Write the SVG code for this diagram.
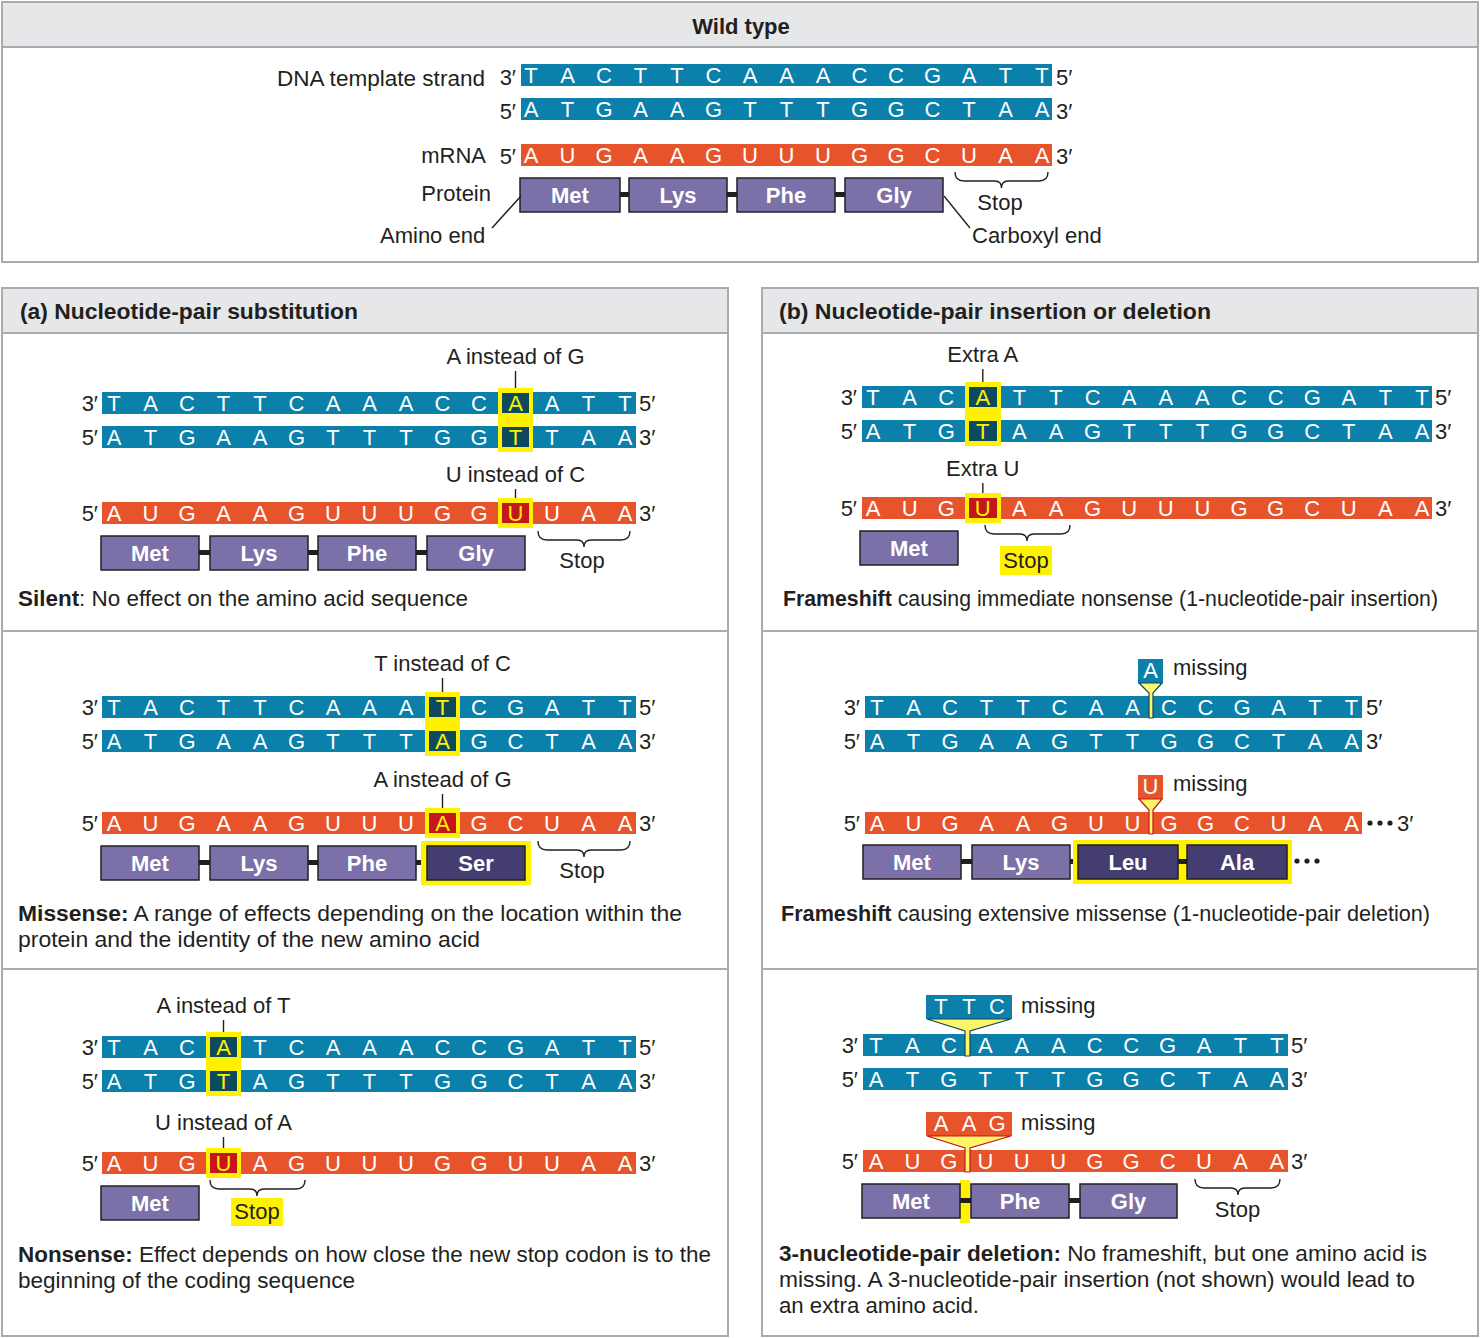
<svg xmlns="http://www.w3.org/2000/svg" width="1480" height="1338" viewBox="0 0 1480 1338">
<style>
text{font-family:"Liberation Sans",Arial,sans-serif;font-size:22px;fill:#231f20}
.nt{fill:#fff;text-anchor:middle}
.y{fill:#fff200}
.mid{text-anchor:middle}
.end{text-anchor:end}
.b{font-weight:bold}
.dna{fill:#0a80aa}
.rna{fill:#e7532b}
.prot{fill:#7b70a8;stroke:#231f20;stroke-width:1.5}
.protd{fill:#433e6f;stroke:#231f20;stroke-width:1.5}
.pt{fill:#fff;font-weight:bold;text-anchor:middle}
.hl{fill:#fff200}
.dk{fill:#0e4a5e}
.rd{fill:#c4161c}
.ln{stroke:#231f20;stroke-width:1.4;fill:none}
.cn{fill:#231f20}
.frame{fill:#fff;stroke:#a9abae;stroke-width:2}
.head{fill:#e6e7e8;stroke:#a9abae;stroke-width:2}
.div{stroke:#a9abae;stroke-width:2}
.fd{fill:#fff56a;stroke:#0e4a5e;stroke-width:1.2}
.fr{fill:#fff56a;stroke:#c4161c;stroke-width:1.2}
</style>

<!-- Frames -->
<g id="frames">
<rect class="frame" x="2" y="2" width="1476" height="260"/>
<rect class="head" x="2" y="2" width="1476" height="45"/>
<rect class="frame" x="2" y="288" width="726" height="1048"/>
<rect class="head" x="2" y="288" width="726" height="45"/>
<line class="div" x1="2" y1="631" x2="728" y2="631"/>
<line class="div" x1="2" y1="969" x2="728" y2="969"/>
<rect class="frame" x="762" y="288" width="716" height="1048"/>
<rect class="head" x="762" y="288" width="716" height="45"/>
<line class="div" x1="762" y1="631" x2="1478" y2="631"/>
<line class="div" x1="762" y1="969" x2="1478" y2="969"/>
<text class="b mid" x="741" y="34">Wild type</text>
<text class="b" x="20" y="319" textLength="338" lengthAdjust="spacingAndGlyphs">(a) Nucleotide-pair substitution</text>
<text class="b" x="779" y="319" textLength="432" lengthAdjust="spacingAndGlyphs">(b) Nucleotide-pair insertion or deletion</text>
</g>

<!-- Wild type -->
<g id="wildtype">
<text x="277" y="86" textLength="208" lengthAdjust="spacingAndGlyphs">DNA template strand</text>
<text class="end" x="516" y="85">3′</text>
<rect class="dna" x="521" y="64" width="531" height="22"/>
<text class="nt" y="83" x="531 567.5 604 640.5 677 713.5 750 786.5 823 859.5 896 932.5 969 1005.5 1042">TACTTCAAACCGATT</text>
<text x="1056" y="85">5′</text>
<text class="end" x="516" y="119">5′</text>
<rect class="dna" x="521" y="98" width="531" height="22"/>
<text class="nt" y="117" x="531 567.5 604 640.5 677 713.5 750 786.5 823 859.5 896 932.5 969 1005.5 1042">ATGAAGTTTGGCTAA</text>
<text x="1056" y="119">3′</text>
<text class="end" x="486" y="163">mRNA</text>
<text class="end" x="516" y="164">5′</text>
<rect class="rna" x="521" y="144" width="531" height="22"/>
<text class="nt" y="163" x="531 567.5 604 640.5 677 713.5 750 786.5 823 859.5 896 932.5 969 1005.5 1042">AUGAAGUUUGGCUAA</text>
<text x="1056" y="164">3′</text>
<text class="end" x="491" y="201">Protein</text>
<rect class="cn" x="619" y="192" width="11" height="5"/>
<rect class="cn" x="726" y="192" width="12" height="5"/>
<rect class="cn" x="834" y="192" width="12" height="5"/>
<rect class="prot" x="520" y="178" width="100" height="34"/>
<text class="pt" x="570" y="203">Met</text>
<rect class="prot" x="629" y="178" width="98" height="34"/>
<text class="pt" x="678" y="203">Lys</text>
<rect class="prot" x="737" y="178" width="98" height="34"/>
<text class="pt" x="786" y="203">Phe</text>
<rect class="prot" x="845" y="178" width="98" height="34"/>
<text class="pt" x="894" y="203">Gly</text>
<text class="mid" x="1000" y="210">Stop</text>
<text x="380" y="243">Amino end</text>
<text x="972" y="243">Carboxyl end</text>
</g>

<!-- (a) Silent -->
<g id="silent">
<text class="mid" x="515.5" y="364">A instead of G</text>
<text class="end" x="98" y="411">3′</text>
<rect class="dna" x="102" y="392" width="534" height="22"/>
<text class="end" x="98" y="445">5′</text>
<rect class="dna" x="102" y="426" width="534" height="22"/>
<rect class="hl" x="498" y="388" width="35" height="64"/>
<rect class="dk" x="502" y="393" width="27" height="20"/>
<rect class="dk" x="502" y="427" width="27" height="20"/>
<text class="nt" y="411"><tspan x="114 150.5 187 223.5 260 296.5 333 369.5 406 442.5 479">TACTTCAAACC</tspan><tspan class="y" x="515.5">A</tspan><tspan x="552 588.5 625">ATT</tspan></text>
<text class="nt" y="445"><tspan x="114 150.5 187 223.5 260 296.5 333 369.5 406 442.5 479">ATGAAGTTTGG</tspan><tspan class="y" x="515.5">T</tspan><tspan x="552 588.5 625">TAA</tspan></text>
<text x="639" y="411">5′</text>
<text x="639" y="445">3′</text>
<text class="mid" x="515.5" y="482">U instead of C</text>
<text class="end" x="98" y="521">5′</text>
<rect class="rna" x="102" y="502" width="534" height="22"/>
<rect class="hl" x="498" y="498" width="35" height="30"/>
<rect class="rd" x="502" y="503" width="27" height="20"/>
<text class="nt" y="521"><tspan x="114 150.5 187 223.5 260 296.5 333 369.5 406 442.5 479">AUGAAGUUUGG</tspan><tspan class="y" x="515.5">U</tspan><tspan x="552 588.5 625">UAA</tspan></text>
<text x="639" y="521">3′</text>
<rect class="cn" x="198" y="550" width="13" height="5"/>
<rect class="cn" x="307" y="550" width="12" height="5"/>
<rect class="cn" x="415" y="550" width="13" height="5"/>
<rect class="prot" x="101" y="536" width="98" height="34"/>
<text class="pt" x="150" y="561">Met</text>
<rect class="prot" x="210" y="536" width="98" height="34"/>
<text class="pt" x="259" y="561">Lys</text>
<rect class="prot" x="318" y="536" width="98" height="34"/>
<text class="pt" x="367" y="561">Phe</text>
<rect class="prot" x="427" y="536" width="98" height="34"/>
<text class="pt" x="476" y="561">Gly</text>
<text class="mid" x="582" y="568">Stop</text>
<text x="18" y="606" textLength="450" lengthAdjust="spacingAndGlyphs"><tspan class="b">Silent</tspan>: No effect on the amino acid sequence</text>
</g>

<!-- (a) Missense -->
<g id="missense">
<text class="mid" x="442.5" y="671">T instead of C</text>
<text class="end" x="98" y="715">3′</text>
<rect class="dna" x="102" y="696" width="534" height="22"/>
<text class="end" x="98" y="749">5′</text>
<rect class="dna" x="102" y="730" width="534" height="22"/>
<rect class="hl" x="425" y="692" width="35" height="64"/>
<rect class="dk" x="429" y="697" width="27" height="20"/>
<rect class="dk" x="429" y="731" width="27" height="20"/>
<text class="nt" y="715"><tspan x="114 150.5 187 223.5 260 296.5 333 369.5 406">TACTTCAAA</tspan><tspan class="y" x="442.5">T</tspan><tspan x="479 515.5 552 588.5 625">CGATT</tspan></text>
<text class="nt" y="749"><tspan x="114 150.5 187 223.5 260 296.5 333 369.5 406">ATGAAGTTT</tspan><tspan class="y" x="442.5">A</tspan><tspan x="479 515.5 552 588.5 625">GCTAA</tspan></text>
<text x="639" y="715">5′</text>
<text x="639" y="749">3′</text>
<text class="mid" x="442.5" y="787">A instead of G</text>
<text class="end" x="98" y="831">5′</text>
<rect class="rna" x="102" y="812" width="534" height="22"/>
<rect class="hl" x="425" y="808" width="35" height="30"/>
<rect class="rd" x="429" y="813" width="27" height="20"/>
<text class="nt" y="831"><tspan x="114 150.5 187 223.5 260 296.5 333 369.5 406">AUGAAGUUU</tspan><tspan class="y" x="442.5">A</tspan><tspan x="479 515.5 552 588.5 625">GCUAA</tspan></text>
<text x="639" y="831">3′</text>
<rect class="cn" x="198" y="860" width="13" height="5"/>
<rect class="cn" x="307" y="860" width="12" height="5"/>
<rect class="cn" x="415" y="860" width="13" height="5"/>
<rect class="hl" x="421" y="841" width="110" height="44"/>
<rect class="prot" x="101" y="846" width="98" height="34"/>
<text class="pt" x="150" y="871">Met</text>
<rect class="prot" x="210" y="846" width="98" height="34"/>
<text class="pt" x="259" y="871">Lys</text>
<rect class="prot" x="318" y="846" width="98" height="34"/>
<text class="pt" x="367" y="871">Phe</text>
<rect class="protd" x="427" y="846" width="98" height="34"/>
<text class="pt y" x="476" y="871">Ser</text>
<text class="mid" x="582" y="878">Stop</text>
<text x="18" y="921" textLength="664" lengthAdjust="spacingAndGlyphs"><tspan class="b">Missense:</tspan> A range of effects depending on the location within the</text>
<text x="18" y="947" textLength="462" lengthAdjust="spacingAndGlyphs">protein and the identity of the new amino acid</text>
</g>

<!-- (a) Nonsense -->
<g id="nonsense">
<text class="mid" x="223.5" y="1013">A instead of T</text>
<text class="end" x="98" y="1055">3′</text>
<rect class="dna" x="102" y="1036" width="534" height="22"/>
<text class="end" x="98" y="1089">5′</text>
<rect class="dna" x="102" y="1070" width="534" height="22"/>
<rect class="hl" x="206" y="1032" width="35" height="64"/>
<rect class="dk" x="210" y="1037" width="27" height="20"/>
<rect class="dk" x="210" y="1071" width="27" height="20"/>
<text class="nt" y="1055"><tspan x="114 150.5 187">TAC</tspan><tspan class="y" x="223.5">A</tspan><tspan x="260 296.5 333 369.5 406 442.5 479 515.5 552 588.5 625">TCAAACCGATT</tspan></text>
<text class="nt" y="1089"><tspan x="114 150.5 187">ATG</tspan><tspan class="y" x="223.5">T</tspan><tspan x="260 296.5 333 369.5 406 442.5 479 515.5 552 588.5 625">AGTTTGGCTAA</tspan></text>
<text x="639" y="1055">5′</text>
<text x="639" y="1089">3′</text>
<text class="mid" x="223.5" y="1130">U instead of A</text>
<text class="end" x="98" y="1171">5′</text>
<rect class="rna" x="102" y="1152" width="534" height="22"/>
<rect class="hl" x="206" y="1148" width="35" height="30"/>
<rect class="rd" x="210" y="1153" width="27" height="20"/>
<text class="nt" y="1171"><tspan x="114 150.5 187">AUG</tspan><tspan class="y" x="223.5">U</tspan><tspan x="260 296.5 333 369.5 406 442.5 479 515.5 552 588.5 625">AGUUUGGUUAA</tspan></text>
<text x="639" y="1171">3′</text>
<rect class="prot" x="101" y="1186" width="98" height="34"/>
<text class="pt" x="150" y="1211">Met</text>
<rect class="hl" x="231" y="1198" width="52" height="28"/>
<text class="mid" x="257" y="1219">Stop</text>
<text x="18" y="1262" textLength="693" lengthAdjust="spacingAndGlyphs"><tspan class="b">Nonsense:</tspan> Effect depends on how close the new stop codon is to the</text>
<text x="18" y="1288" textLength="337" lengthAdjust="spacingAndGlyphs">beginning of the coding sequence</text>
</g>

<!-- (b) Insertion -->
<g id="insertion">
<text class="mid" x="982.8" y="362">Extra A</text>
<text class="end" x="857" y="405">3′</text>
<rect class="dna" x="862" y="386" width="570" height="22"/>
<text class="end" x="857" y="439">5′</text>
<rect class="dna" x="862" y="420" width="570" height="22"/>
<rect class="hl" x="965" y="382" width="36" height="64"/>
<rect class="dk" x="969" y="387" width="28" height="20"/>
<rect class="dk" x="969" y="421" width="28" height="20"/>
<text class="nt" y="405"><tspan x="873 909.6 946.2">TAC</tspan><tspan class="y" x="982.8">A</tspan><tspan x="1019.4 1056 1092.6 1129.2 1165.8 1202.4 1239 1275.6 1312.2 1348.8 1385.4 1422">TTCAAACCGATT</tspan></text>
<text class="nt" y="439"><tspan x="873 909.6 946.2">ATG</tspan><tspan class="y" x="982.8">T</tspan><tspan x="1019.4 1056 1092.6 1129.2 1165.8 1202.4 1239 1275.6 1312.2 1348.8 1385.4 1422">AAGTTTGGCTAA</tspan></text>
<text x="1435" y="405">5′</text>
<text x="1435" y="439">3′</text>
<text class="mid" x="982.8" y="476">Extra U</text>
<text class="end" x="857" y="516">5′</text>
<rect class="rna" x="862" y="497" width="570" height="22"/>
<rect class="hl" x="965" y="493" width="36" height="30"/>
<rect class="rd" x="969" y="498" width="28" height="20"/>
<text class="nt" y="516"><tspan x="873 909.6 946.2">AUG</tspan><tspan class="y" x="982.8">U</tspan><tspan x="1019.4 1056 1092.6 1129.2 1165.8 1202.4 1239 1275.6 1312.2 1348.8 1385.4 1422">AAGUUUGGCUAA</tspan></text>
<text x="1435" y="516">3′</text>
<rect class="prot" x="860" y="531" width="98" height="34"/>
<text class="pt" x="909" y="556">Met</text>
<rect class="hl" x="1000" y="546" width="52" height="29"/>
<text class="mid" x="1026" y="568">Stop</text>
<text x="783" y="606" textLength="655" lengthAdjust="spacingAndGlyphs"><tspan class="b">Frameshift</tspan> causing immediate nonsense (1-nucleotide-pair insertion)</text>
</g>

<!-- (b) Deletion of one pair -->
<g id="deletion1">
<rect class="dna" x="1138" y="659" width="25" height="24"/>
<text class="nt" x="1150.5" y="678">A</text>
<text x="1173" y="675">missing</text>
<text class="end" x="860" y="715">3′</text>
<rect class="dna" x="865" y="696" width="497" height="22"/>
<text class="end" x="860" y="749">5′</text>
<rect class="dna" x="865" y="730" width="497" height="22"/>
<polygon class="fd" points="1139,683 1162,683 1153,693 1153,718 1149,718 1149,693"/>
<text class="nt" y="715" x="877 913.5 950 986.5 1023 1059.5 1096 1132.5 1169 1205.5 1242 1278.5 1315 1351.5">TACTTCAACCGATT</text>
<text class="nt" y="749" x="877 913.5 950 986.5 1023 1059.5 1096 1132.5 1169 1205.5 1242 1278.5 1315 1351.5">ATGAAGTTGGCTAA</text>
<text x="1366" y="715">5′</text>
<text x="1366" y="749">3′</text>
<rect class="rna" x="1138" y="775" width="25" height="24"/>
<text class="nt" x="1150.5" y="794">U</text>
<text x="1173" y="791">missing</text>
<text class="end" x="860" y="831">5′</text>
<rect class="rna" x="865" y="812" width="497" height="22"/>
<polygon class="fr" points="1139,799 1162,799 1153,810 1153,834 1149,834 1149,810"/>
<text class="nt" y="831" x="877 913.5 950 986.5 1023 1059.5 1096 1132.5 1169 1205.5 1242 1278.5 1315 1351.5">AUGAAGUUGGCUAA</text>
<circle class="cn" cx="1370" cy="823" r="2.6"/>
<circle class="cn" cx="1380" cy="823" r="2.6"/>
<circle class="cn" cx="1390" cy="823" r="2.6"/>
<text x="1397" y="831">3′</text>
<rect class="cn" x="960" y="859" width="13" height="5"/>
<rect class="cn" x="1069" y="859" width="10" height="5"/>
<rect class="hl" x="1073" y="840" width="219" height="44"/>
<rect class="cn" x="1177" y="859" width="11" height="5"/>
<rect class="prot" x="863" y="845" width="98" height="34"/>
<text class="pt" x="912" y="870">Met</text>
<rect class="prot" x="972" y="845" width="98" height="34"/>
<text class="pt" x="1021" y="870">Lys</text>
<rect class="protd" x="1078" y="845" width="100" height="34"/>
<text class="pt y" x="1128" y="870">Leu</text>
<rect class="protd" x="1187" y="845" width="100" height="34"/>
<text class="pt y" x="1237" y="870">Ala</text>
<circle class="cn" cx="1297" cy="861" r="2.6"/>
<circle class="cn" cx="1307" cy="861" r="2.6"/>
<circle class="cn" cx="1317" cy="861" r="2.6"/>
<text x="781" y="921" textLength="649" lengthAdjust="spacingAndGlyphs"><tspan class="b">Frameshift</tspan> causing extensive missense (1-nucleotide-pair deletion)</text>
</g>

<!-- (b) Deletion of three pairs -->
<g id="deletion3">
<rect class="dna" x="926" y="995" width="86" height="24"/>
<text class="nt" y="1014" x="941 969 997">TTC</text>
<text x="1021" y="1013">missing</text>
<text class="end" x="858" y="1053">3′</text>
<rect class="dna" x="863" y="1034" width="425" height="22"/>
<text class="end" x="858" y="1087">5′</text>
<rect class="dna" x="863" y="1068" width="425" height="22"/>
<polygon class="fd" points="927,1019 1011,1019 970,1031 970,1056 965,1056 965,1031"/>
<text class="nt" y="1053" x="876 912.45 948.9 985.35 1021.8 1058.25 1094.7 1131.15 1167.6 1204.05 1240.5 1276.95">TACAAACCGATT</text>
<text class="nt" y="1087" x="876 912.45 948.9 985.35 1021.8 1058.25 1094.7 1131.15 1167.6 1204.05 1240.5 1276.95">ATGTTTGGCTAA</text>
<text x="1291" y="1053">5′</text>
<text x="1291" y="1087">3′</text>
<rect class="rna" x="926" y="1112" width="86" height="24"/>
<text class="nt" y="1131" x="941 969 997">AAG</text>
<text x="1021" y="1130">missing</text>
<text class="end" x="858" y="1169">5′</text>
<rect class="rna" x="863" y="1150" width="425" height="22"/>
<polygon class="fr" points="927,1136 1011,1136 970,1148 970,1172 965,1172 965,1148"/>
<text class="nt" y="1169" x="876 912.45 948.9 985.35 1021.8 1058.25 1094.7 1131.15 1167.6 1204.05 1240.5 1276.95">AUGUUUGGCUAA</text>
<text x="1291" y="1169">3′</text>
<rect class="hl" x="960" y="1180" width="10" height="43"/>
<rect class="cn" x="959" y="1198" width="13" height="5"/>
<rect class="cn" x="1068" y="1198" width="13" height="5"/>
<rect class="prot" x="862" y="1184" width="98" height="34"/>
<text class="pt" x="911" y="1209">Met</text>
<rect class="prot" x="971" y="1184" width="98" height="34"/>
<text class="pt" x="1020" y="1209">Phe</text>
<rect class="prot" x="1080" y="1184" width="97" height="34"/>
<text class="pt" x="1128.5" y="1209">Gly</text>
<text class="mid" x="1237.5" y="1217">Stop</text>
<text x="779" y="1261" textLength="648" lengthAdjust="spacingAndGlyphs"><tspan class="b">3-nucleotide-pair deletion:</tspan>  No frameshift, but one amino acid is</text>
<text x="779" y="1287" textLength="636" lengthAdjust="spacingAndGlyphs">missing. A 3-nucleotide-pair insertion (not shown) would lead to</text>
<text x="779" y="1313" textLength="200" lengthAdjust="spacingAndGlyphs">an extra amino acid.</text>
</g>

<!-- Connectors: pointer lines and braces -->
<g id="connectors">
<line class="ln" x1="492" y1="228" x2="521" y2="196"/>
<line class="ln" x1="944" y1="196" x2="970" y2="228"/>
<path class="ln" d="M955 172 Q955 181 964 181 L995 181 Q1001.5 181 1001.5 188 Q1001.5 181 1008 181 L1039 181 Q1048 181 1048 172"/>
<line class="ln" x1="515.5" y1="371" x2="515.5" y2="388"/>
<line class="ln" x1="515.5" y1="489" x2="515.5" y2="498"/>
<path class="ln" d="M538 531 Q538 540 547 540 L577 540 Q584 540 584 547 Q584 540 591 540 L621 540 Q630 540 630 531"/>
<line class="ln" x1="442.5" y1="678" x2="442.5" y2="692"/>
<line class="ln" x1="442.5" y1="794" x2="442.5" y2="808"/>
<path class="ln" d="M538 841 Q538 850 547 850 L577 850 Q584 850 584 857 Q584 850 591 850 L621 850 Q630 850 630 841"/>
<line class="ln" x1="223.5" y1="1020" x2="223.5" y2="1032"/>
<line class="ln" x1="223.5" y1="1137" x2="223.5" y2="1148"/>
<path class="ln" d="M210 1180 Q210 1189 219 1189 L250 1189 Q257 1189 257 1196 Q257 1189 264 1189 L296 1189 Q305 1189 305 1180"/>
<line class="ln" x1="982.8" y1="369" x2="982.8" y2="382"/>
<line class="ln" x1="982.8" y1="483" x2="982.8" y2="493"/>
<path class="ln" d="M985 525 Q985 534 994 534 L1020 534 Q1027 534 1027 541 Q1027 534 1034 534 L1061 534 Q1070 534 1070 525"/>
<path class="ln" d="M1195 1179 Q1195 1188 1204 1188 L1231 1188 Q1238 1188 1238 1195 Q1238 1188 1245 1188 L1271 1188 Q1280 1188 1280 1179"/>
</g>
</svg>
